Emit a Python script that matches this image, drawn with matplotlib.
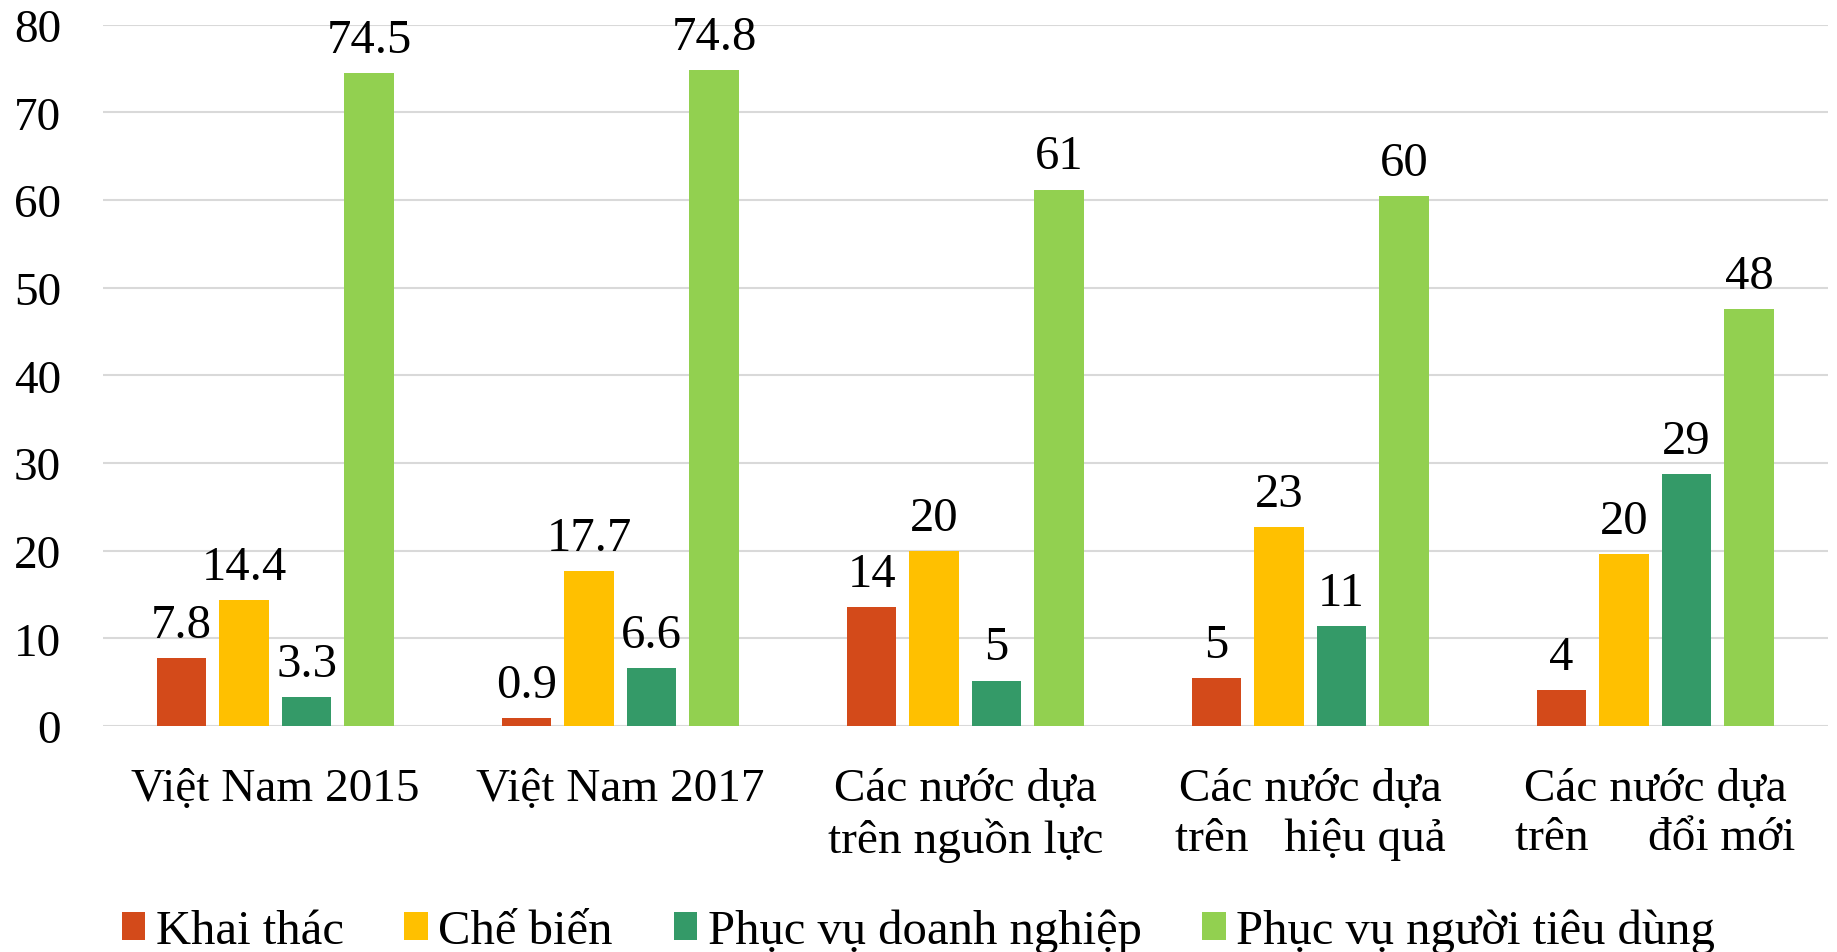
import numpy as np
import matplotlib
matplotlib.use("Agg")
import matplotlib.pyplot as plt

plt.rcParams['font.family'] = ['Liberation Serif', 'DejaVu Serif']

groups = ["Việt Nam 2015", "Việt Nam 2017",
          "Các nước dựa\ntrên nguồn lực",
          "Các nước dựa\ntrên   hiệu quả",
          "Các nước dựa\ntrên     đổi mới"]
series = ["Khai thác", "Chế biến", "Phục vụ doanh nghiệp", "Phục vụ người tiêu dùng"]
colors = ["#D34A1A", "#FFC000", "#349A68", "#92D050"]

khai_thac = [7.8, 0.9, 13.6, 5.5, 4.1]
che_bien = [14.4, 17.7, 20.0, 22.7, 19.6]
dn = [3.3, 6.6, 5.2, 11.4, 28.8]
ntd = [74.5, 74.8, 61.2, 60.5, 47.6]
values = [khai_thac, che_bien, dn, ntd]

lab_kt = ["7.8", "0.9", "14", "5", "4"]
lab_cb = ["14.4", "17.7", "20", "23", "20"]
lab_dn = ["3.3", "6.6", "5", "11", "29"]
lab_ntd = ["74.5", "74.8", "61", "60", "48"]
labels = [lab_kt, lab_cb, lab_dn, lab_ntd]

fig = plt.figure(figsize=(18.37, 9.53), dpi=100)
ax = fig.add_axes([0.056, 0.237, 0.939, 0.736])

x = np.arange(len(groups))
step = 0.181
width = 0.1435
for i in range(4):
    pos = x + (i - 1.5) * step
    bars = ax.bar(pos, values[i], width, color=colors[i], label=series[i], zorder=3)
    for b, t in zip(bars, labels[i]):
        ax.annotate(t, (b.get_x() + b.get_width() / 2, b.get_height()),
                    xytext=(0, 8), textcoords='offset points',
                    ha='center', va='bottom', fontsize=35)

ax.set_xlim(-0.5, 4.5)
ax.set_ylim(0, 80)
ax.set_yticks(range(0, 81, 10))
ax.yaxis.grid(True, color='#D9D9D9', linewidth=1.5, zorder=0)
for s in ax.spines.values():
    s.set_visible(False)
ax.axhline(0, color='#D9D9D9', linewidth=2, zorder=2)
ax.tick_params(axis='y', length=0, labelsize=34, pad=30)
ax.tick_params(axis='x', length=0, labelsize=34, pad=30)
ax.set_xticks(x)
ax.set_xticklabels(groups, linespacing=1.2)

fig.legend(loc='center', bbox_to_anchor=(0.5, 0.022), ncol=4, frameon=False,
           fontsize=35, handlelength=0.48, handleheight=0.48, handletextpad=0.22,
           columnspacing=1.25)

fig.savefig("out.png", dpi=100)
